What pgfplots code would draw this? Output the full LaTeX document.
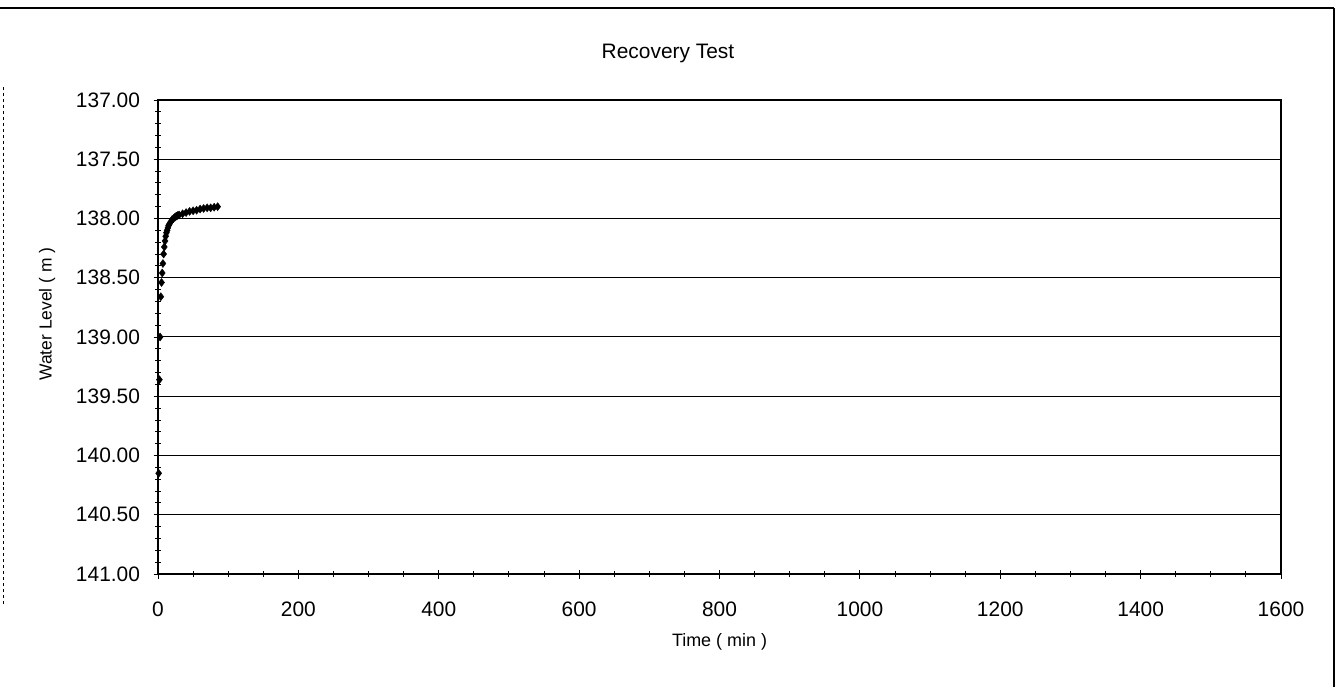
\documentclass[border=0pt]{standalone}
\usepackage{fontspec}
\setmainfont{Liberation Sans}
\usepackage{pgfplots}
\pgfplotsset{compat=1.18}
\begin{document}
\begin{tikzpicture}[x=1bp,y=1bp]
\path[use as bounding box] (0,0) rectangle (1341,687);
\draw[line width=1.2bp] (0,679) -- (1334,679);
\draw[line width=1.2bp] (1334,679) -- (1334,0);
\draw[line width=0.8bp,dashed] (3,600) -- (3,80);
\node[font=\fontsize{21}{25}\selectfont] at (668,634) {Recovery Test};
\begin{axis}[
  at={(158bp,113bp)}, anchor=south west,
  width=1123bp, height=474bp, scale only axis,
  xmin=0, xmax=1600, ymin=137, ymax=141,
  y dir=reverse,
  xtick={0,200,...,1600},
  minor x tick num=3,
  ytick={137,137.5,...,141},
  minor y tick num=4,
  xtick pos=bottom, ytick pos=left,
  ymajorgrids, major grid style={black, line width=1bp},
  axis line style={black, line width=1.2bp},
  tick style={black, line width=0.9bp},
  tick align=center,
  major tick length=9bp, minor tick length=6bp,
  /pgf/number format/assume math mode=true,
  yticklabel style={/pgf/number format/fixed, /pgf/number format/fixed zerofill, /pgf/number format/precision=2, /pgf/number format/1000 sep={}, font=\fontsize{21}{25}\selectfont},
  xticklabel style={/pgf/number format/1000 sep={}, font=\fontsize{21}{25}\selectfont},
  yticklabel shift=10bp,
  xticklabel shift=20bp,
  xlabel={Time ( min )},
  ylabel={Water Level ( m )},
  xlabel style={font=\fontsize{18}{21}\selectfont, yshift=-10bp},
  ylabel style={font=\fontsize{17.5}{21}\selectfont, yshift=14bp, xshift=23bp},
  clip=false,
]
\addplot[only marks, mark=diamond*, mark size=4bp, black] coordinates {
(1,140.15) (2,139.36) (3,139.0) (4,138.66) (5,138.54) (6,138.46)
(7,138.38) (8,138.30) (9,138.24) (10,138.19) (11,138.15) (12,138.12)
(13,138.10) (14,138.08) (15,138.06) (16,138.05) (18,138.03) (20,138.01)
(22,138.00) (24,137.99) (26,137.98) (28,137.975) (30,137.97) (35,137.96)
(40,137.95) (45,137.94) (50,137.935) (55,137.93) (60,137.92) (65,137.915)
(70,137.91) (75,137.91) (80,137.905) (85,137.90)
};
\end{axis}
\end{tikzpicture}
\end{document}
